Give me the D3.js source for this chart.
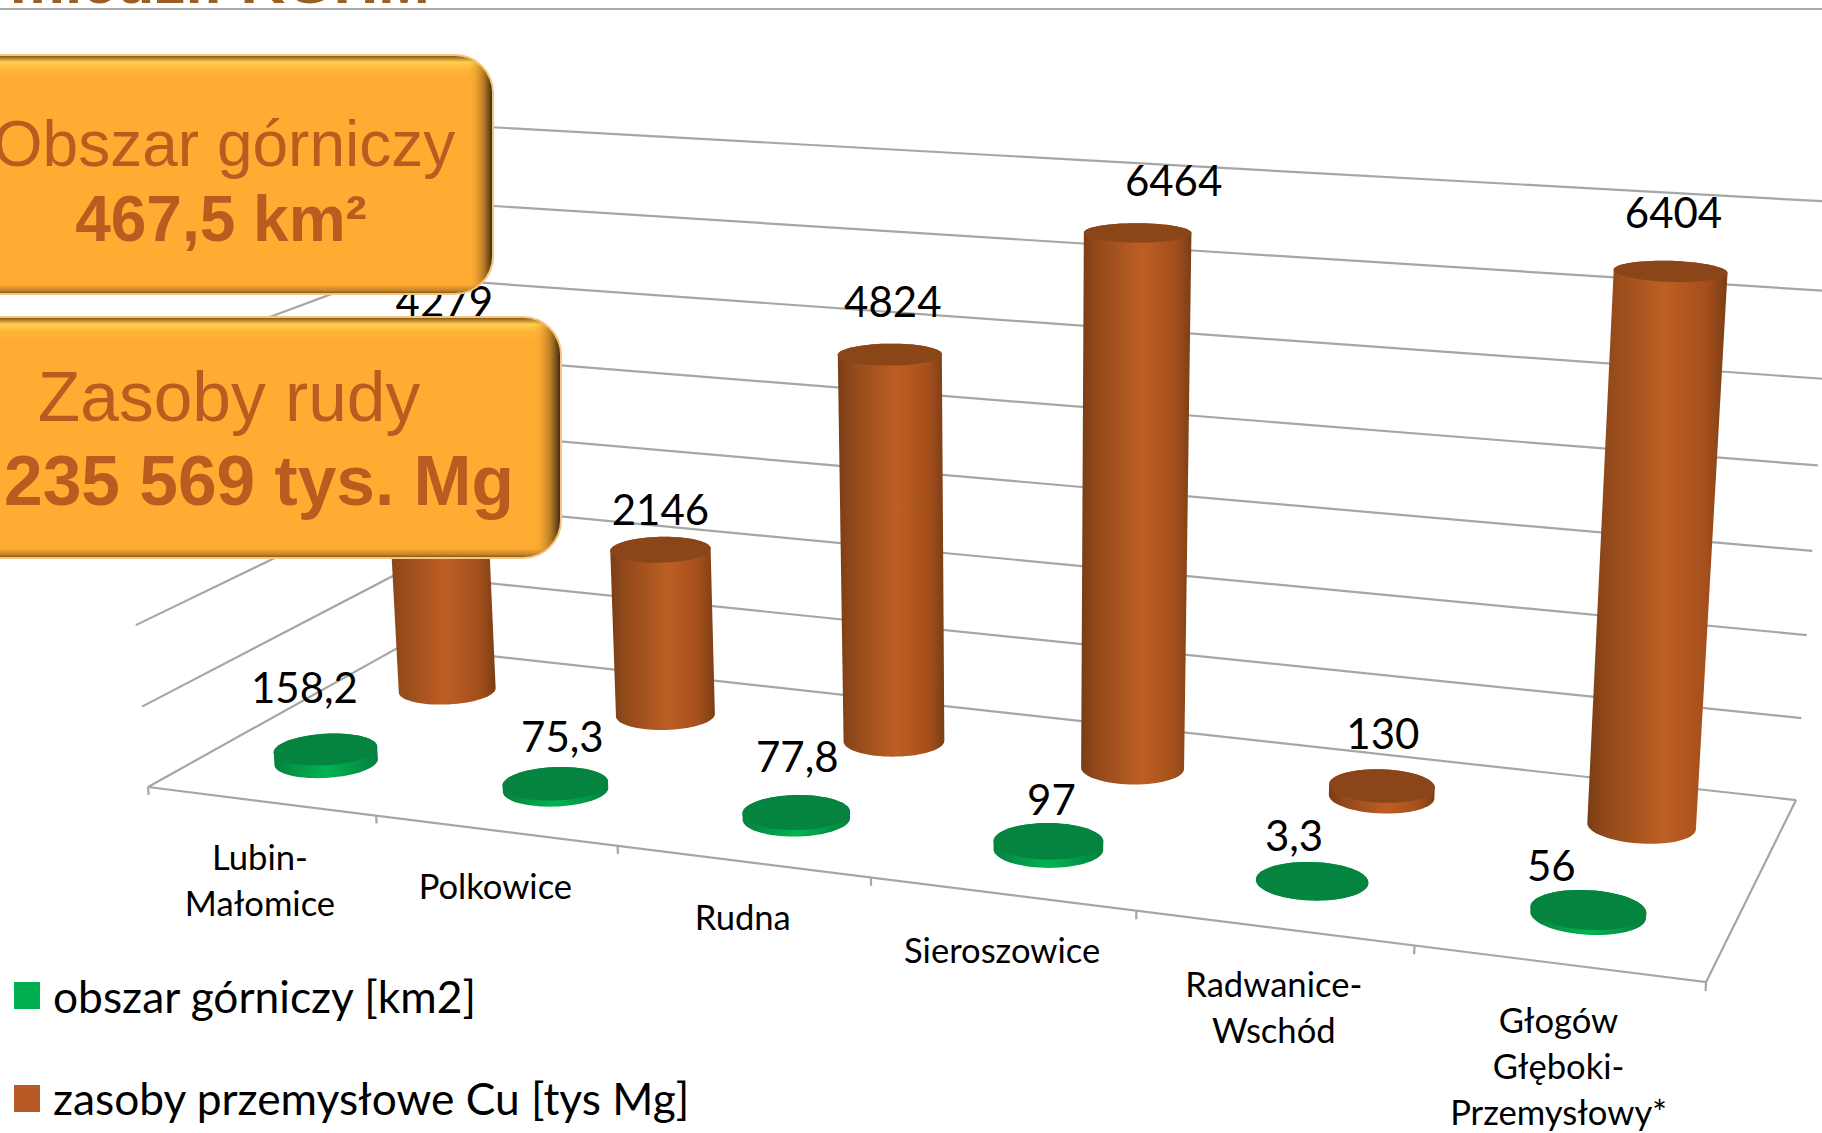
<!DOCTYPE html>
<html>
<head>
<meta charset="utf-8">
<script src="https://cdn.jsdelivr.net/npm/d3@7"></script>
<style>
    html, body { margin: 0; padding: 0; background: #fff; overflow: hidden; }
    text { font-family: Lato, "Open Sans", sans-serif; fill: #000; }
    .box-text { font-family: "Liberation Sans", Arial, sans-serif; fill: #b85c20; text-anchor: middle; }
</style>
</head>
<body>
<div id="chart"></div>
<script>
// Dane
const categories = ["Lubin-Małomice", "Polkowice", "Rudna", "Sieroszowice", "Radwanice-Wschód", "Głogów Głęboki-Przemysłowy*"];
const categoryLines = [["Lubin-", "Małomice"], ["Polkowice"], ["Rudna"], ["Sieroszowice"], ["Radwanice-", "Wschód"], ["Głogów", "Głęboki-", "Przemysłowy*"]];
const obszar = [158.2, 75.3, 77.8, 97, 3.3, 56];
const zasoby = [4279, 2146, 4824, 6464, 130, 6404];
const gridValues = [0, 1000, 2000, 3000, 4000, 5000, 6000, 7000];
const seriesNames = ["obszar górniczy [km2]", "zasoby przemysłowe Cu [tys Mg]"];

// reczne przesuniecia etykiet, jak w oryginale
const obszarLabelNudge = [[-21, -46], [7, -32], [1, -40], [3, -26], [-18, -30], [-37, -29]];
const zasobyLabelNudge = [[13, -46], [0, -25], [3, -37], [36, -37], [1, -37], [3, -43]];

const width = 1822, height = 1133;

const svg = d3.select("#chart").append("svg")
    .attr("width", width).attr("height", height)
    .style("display", "block");

// the front edge is not quite evenly foreshortened
const warp = d3.scalePow().exponent(1.012).domain([0, 1]).range([0, 1]);

// 3D box: x along the front edge, y up, z into the picture (all 0..1)
const project = (x0, y, z) => {
    const x = warp(x0);
    const w = 1 - 0.1199 * x - 0.048 * y + 0.1246 * z;
    return [
        (148 + 1353.5 * x - 49 * y + 303 * z) / w,
        (787 + 77.3 * x + (-610.6 + 14 * (1 - x)) * y - 60.5 * z) / w
    ];
};

const xScale = d3.scaleBand().domain(categories).range([0, 1]);
const yScale = d3.scaleLinear().domain([0, 7000]).range([0, 1]);
const zScale = d3.scalePoint().domain(seriesNames).range([0, 1]).padding(0.5);
const tickPositions = d3.range(categories.length + 1).map(i => i / categories.length);

const defs = svg.append("defs");

const addGradient = (id, stops, vertical) => {
    const grad = defs.append("linearGradient").attr("id", id)
        .attr("x1", "0%").attr("y1", "0%")
        .attr("x2", vertical ? "0%" : "100%").attr("y2", vertical ? "100%" : "0%");
    stops.forEach(s => grad.append("stop")
        .attr("offset", s[0]).attr("stop-color", s[1]).attr("stop-opacity", s[2] === undefined ? 1 : s[2]));
};

addGradient("side-copper", [[0, "#7a3d14"], [0.14, "#92491a"], [0.55, "#bd5f24"], [0.85, "#a54f1c"], [1, "#7b3e15"]]);
addGradient("side-green", [[0, "#05803d"], [0.5, "#00b551"], [1, "#05803d"]]);
addGradient("box-vert-1", [[0, "#6b4715"], [0.012, "#b57b26"], [0.03, "#ffd052"], [0.06, "#ffb535"], [0.1, "#ffac33"], [0.96, "#ffac33"], [0.985, "#c98427"], [1, "#6b4a1c"]], true);
addGradient("box-right", [[0.955, "#ffac33", 0], [0.985, "#a06c20", 0.8], [1, "#3f2c10", 1]]);

// ---- gridlines, walls and floor
const grid = svg.append("g")
    .attr("fill", "none")
    .attr("stroke", "#a6a6a6")
    .attr("stroke-width", 2.2);
const line = d3.line();

gridValues.forEach(v => {
    const y = yScale(v);
    grid.append("path").attr("d", line([project(0, y, 0), project(0, y, 1), project(1, y, 1)]));
});

grid.append("path").attr("d", line([project(0, 0, 0), project(1, 0, 0), project(1, 0, 1)]));

tickPositions.forEach(t => {
    grid.append("path").attr("d", line([project(t, 0, 0), project(t, -0.014, 0)]));
});

// ---- cylinders
const ring = (cx, y, cz) => d3.range(0, 72).map(i => {
    const a = i / 72 * 2 * Math.PI;
    return project(cx + 0.0335 * Math.cos(a), y, cz + 0.1 * Math.sin(a));
});

const drawSeries = (values, seriesName, sideFill, topFill) => {
    const z = zScale(seriesName);
    const group = svg.append("g");
    values.forEach((v, i) => {
        const x = xScale(categories[i]) + xScale.bandwidth() / 2;
        const bottom = ring(x, 0, z);
        const top = ring(x, yScale(v), z);
        group.append("path")
            .attr("d", line(d3.polygonHull(bottom.concat(top))) + "Z")
            .attr("fill", sideFill);
        group.append("path")
            .attr("d", line(top) + "Z")
            .attr("fill", topFill);
    });
};

const drawLabels = (values, seriesName, nudges) => {
    const z = zScale(seriesName);
    svg.append("g").selectAll("text")
        .data(values)
        .join("text")
        .attr("x", (v, i) => project(xScale(categories[i]) + xScale.bandwidth() / 2, yScale(v), z)[0] + nudges[i][0])
        .attr("y", (v, i) => project(xScale(categories[i]) + xScale.bandwidth() / 2, yScale(v), z)[1] + nudges[i][1])
        .attr("text-anchor", "middle")
        .style("font-size", "42px")
        .text(v => String(v).replace(".", ","));
};

drawSeries(zasoby, seriesNames[1], "url(#side-copper)", "#8a4619");
drawSeries(obszar, seriesNames[0], "url(#side-green)", "#05843f");
drawLabels(zasoby, seriesNames[1], zasobyLabelNudge);
drawLabels(obszar, seriesNames[0], obszarLabelNudge);

// ---- category labels
categories.forEach((c, i) => {
    const [lx, ly] = project(xScale(c) + xScale.bandwidth() / 2, 0, 0);
    categoryLines[i].forEach((t, j) => {
        svg.append("text")
            .attr("x", lx)
            .attr("y", ly + 69 + j * 46)
            .attr("text-anchor", "middle")
            .style("font-size", "34.6px")
            .text(t);
    });
});

// ---- legend
const legendColors = ["#00b050", "#b85a25"];
seriesNames.forEach((s, i) => {
    svg.append("rect")
        .attr("x", 14).attr("y", 982 + i * 103)
        .attr("width", 26).attr("height", 27)
        .attr("fill", legendColors[i]);
    svg.append("text")
        .attr("x", 53).attr("y", 1013 + i * 102)
        .style("font-size", "44.3px")
        .text(s);
});

// ---- title cut off by the top of the picture, and the rule below it
svg.append("text")
    .attr("class", "box-text")
    .attr("x", 430).attr("y", 3)
    .style("text-anchor", "end")
    .style("fill", "#9a5f22")
    .style("font-weight", "bold")
    .style("font-size", "62px")
    .text("miedzi: KGHM");

svg.append("line")
    .attr("x1", 0).attr("x2", width)
    .attr("y1", 9).attr("y2", 9)
    .attr("stroke", "#8c8c8c")
    .attr("stroke-width", 1.5);

// ---- orange boxes on top of the chart
const drawBox = (right, top, bottom, lines) => {
    const left = -40;
    const r = 38;
    const box = svg.append("g");
    box.append("rect")
        .attr("x", left).attr("y", top)
        .attr("width", right - left).attr("height", bottom - top)
        .attr("rx", r)
        .attr("fill", "url(#box-vert-1)")
        .attr("stroke", "#f4c57f")
        .attr("stroke-width", 2);
    box.append("rect")
        .attr("x", left + 1).attr("y", top + 1)
        .attr("width", right - left - 2).attr("height", bottom - top - 2)
        .attr("rx", r - 1)
        .attr("fill", "url(#box-right)");
    lines.forEach(l => {
        box.append("text")
            .attr("class", "box-text")
            .attr("x", l.x).attr("y", l.y)
            .style("font-size", l.size + "px")
            .style("font-weight", l.bold ? "bold" : "normal")
            .text(l.text);
    });
};

drawBox(493, 55, 294, [
    {text: "Obszar górniczy", x: 224, y: 166, size: 64},
    {text: "467,5 km²", x: 221, y: 241, size: 64, bold: true}
]);
drawBox(561, 317, 558, [
    {text: "Zasoby rudy", x: 229, y: 421, size: 69.5},
    {text: "235 569 tys. Mg", x: 259, y: 505, size: 69.5, bold: true}
]);
</script>
</body>
</html>
